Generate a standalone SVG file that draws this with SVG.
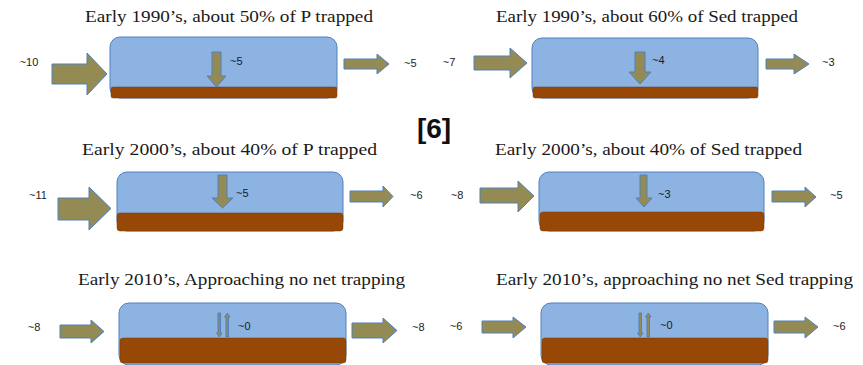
<svg xmlns="http://www.w3.org/2000/svg" width="863" height="365" viewBox="0 0 863 365">
<style>
.t{font-family:"Liberation Serif","DejaVu Serif",serif;font-size:16.5px;fill:#1a1a1a;text-anchor:middle}
.n{font-family:"Liberation Sans","DejaVu Sans",sans-serif;font-size:11px;fill:#1a1a1a;dominant-baseline:central}
.box{fill:#8DB3E2;stroke:#4F81BD;stroke-width:1}
.sed{fill:#974806;stroke:#7a3a05;stroke-width:0.5}
.ar{fill:#948A54;stroke:#4F81BD;stroke-width:1}
.big{font-family:"Liberation Sans","DejaVu Sans",sans-serif;font-size:28px;font-weight:bold;fill:#111;text-anchor:middle}
</style>
<rect width="863" height="365" fill="#fff"/>
<text class="big" x="434" y="138">[6]</text>

<g id="p1">
<text class="t" x="229" y="22" textLength="288" lengthAdjust="spacingAndGlyphs">Early 1990’s,  about 50% of P trapped</text>
<rect class="box" x="110" y="37" width="227" height="61" rx="10"/>
<rect class="sed" x="111" y="87" width="226" height="11" rx="2"/>
<text class="n" x="29" y="62" text-anchor="middle">~10</text>
<text class="n" x="230" y="61">~5</text>
<text class="n" x="404" y="63">~5</text>
</g>
<g id="p2">
<text class="t" x="647" y="22" textLength="302" lengthAdjust="spacingAndGlyphs">Early 1990’s, about 60% of Sed trapped</text>
<rect class="box" x="532" y="38" width="226" height="60" rx="10"/>
<rect class="sed" x="533" y="87" width="225" height="11" rx="2"/>
<text class="n" x="449" y="62" text-anchor="middle">~7</text>
<text class="n" x="652" y="60">~4</text>
<text class="n" x="822" y="62">~3</text>
</g>
<g id="p3">
<text class="t" x="229.5" y="155" textLength="295" lengthAdjust="spacingAndGlyphs">Early 2000’s,  about 40% of P trapped</text>
<rect class="box" x="117" y="172" width="226" height="59" rx="10"/>
<rect class="sed" x="117" y="213" width="226" height="18" rx="3"/>
<text class="n" x="38" y="195" text-anchor="middle">~11</text>
<text class="n" x="236" y="193">~5</text>
<text class="n" x="410" y="195">~6</text>
</g>
<g id="p4">
<text class="t" x="648.5" y="155" textLength="307" lengthAdjust="spacingAndGlyphs">Early 2000’s, about 40% of Sed trapped</text>
<rect class="box" x="539" y="172" width="225" height="59" rx="10"/>
<rect class="sed" x="540" y="212" width="224" height="19" rx="3"/>
<text class="n" x="457" y="195" text-anchor="middle">~8</text>
<text class="n" x="658" y="194">~3</text>
<text class="n" x="830" y="195">~5</text>
</g>
<g id="p5">
<text class="t" x="241.5" y="285" textLength="327" lengthAdjust="spacingAndGlyphs">Early 2010’s, Approaching no net trapping</text>
<rect class="box" x="119" y="303" width="227" height="62" rx="10"/>
<rect class="sed" x="120" y="338" width="226" height="25" rx="3"/>
<text class="n" x="34" y="327" text-anchor="middle">~8</text>
<text class="n" x="238" y="326">~0</text>
<text class="n" x="412" y="327">~8</text>
</g>
<g id="p6">
<text class="t" x="674.5" y="285" textLength="357" lengthAdjust="spacingAndGlyphs">Early 2010’s, approaching no net Sed trapping</text>
<rect class="box" x="541" y="303" width="227" height="62" rx="10"/>
<rect class="sed" x="542" y="338" width="226" height="25" rx="3"/>
<text class="n" x="456" y="326" text-anchor="middle">~6</text>
<text class="n" x="660" y="325">~0</text>
<text class="n" x="833" y="326">~6</text>
</g>

<g id="connectors">
<!-- panel 1 -->
<path class="ar" d="M52,64 H87 V53 L107,74 L87,95 V84 H52 Z"/>
<path class="ar" d="M212,52 H221 V76 H226 L216.5,87 L207,76 H212 Z"/>
<path class="ar" d="M344,59 H377 V54 L389,64 L377,74 V69 H344 Z"/>
<!-- panel 2 -->
<path class="ar" d="M474,56 H510 V48 L527,63 L510,78 V70 H474 Z"/>
<path class="ar" d="M635,52 H645 V72 H651 L640,84 L629,72 H635 Z"/>
<path class="ar" d="M766,59 H794 V54 L809,64 L794,74 V69 H766 Z"/>
<!-- panel 3 -->
<path class="ar" d="M58,198 H89 V187 L111,208.5 L89,230 V220 H58 Z"/>
<path class="ar" d="M218,175 H227 V198 H233 L222.5,208 L212,198 H218 Z"/>
<path class="ar" d="M350,191 H383 V186 L393,196.5 L383,207 V202 H350 Z"/>
<!-- panel 4 -->
<path class="ar" d="M480,188 H518 V181 L534,196 L518,212 V203 H480 Z"/>
<path class="ar" d="M640,175 H647 V198 H652 L644,207 L636,198 H640 Z"/>
<path class="ar" d="M772,191 H805 V187 L816,197 L805,207 V202 H772 Z"/>
<!-- panel 5 -->
<path class="ar" d="M60,325 H91 V320 L104,331.5 L91,343 V338 H60 Z"/>
<path class="ar" d="M218,313 H220.5 V333 H222 L219.3,337 L216.5,333 H218 Z"/>
<path class="ar" d="M226,337 H228.5 V317 H230 L227.3,313 L224.5,317 H226 Z"/>
<path class="ar" d="M352,323 H383 V318 L397,330.5 L383,343 V338 H352 Z"/>
<!-- panel 6 -->
<path class="ar" d="M482,321 H513 V317 L526,327 L513,338 V333 H482 Z"/>
<path class="ar" d="M639,313 H641.5 V333 H643 L640.3,337 L637.5,333 H639 Z"/>
<path class="ar" d="M647,337 H649.5 V317 H651 L648.3,313 L645.5,317 H647 Z"/>
<path class="ar" d="M774,321 H805 V317 L818,327 L805,338 V333 H774 Z"/>
</g>
</svg>
